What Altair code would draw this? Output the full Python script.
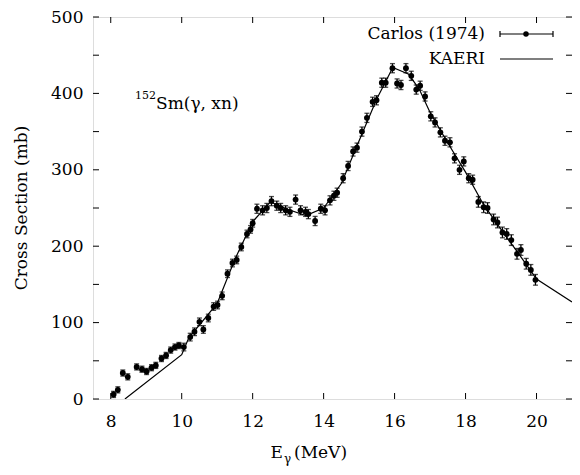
import altair as alt
import pandas as pd

# Carlos (1974) data
carlos_e = [8.08, 8.20, 8.34, 8.48, 8.73, 8.88, 9.01, 9.15, 9.27, 9.43, 9.56, 9.69, 9.81, 9.92,
            10.06, 10.24, 10.36, 10.50, 10.61, 10.75, 10.90, 11.01, 11.14, 11.29, 11.43, 11.55,
            11.68, 11.84, 11.94, 12.00, 12.12, 12.28, 12.40, 12.53, 12.68, 12.79, 12.93, 13.05,
            13.21, 13.35, 13.49, 13.57, 13.76, 13.92, 14.04, 14.18, 14.29, 14.38, 14.55, 14.69,
            14.83, 14.94, 15.08, 15.22, 15.38, 15.49, 15.64, 15.75, 15.94, 16.07, 16.18, 16.32,
            16.47, 16.61, 16.72, 16.86, 17.02, 17.14, 17.29, 17.42, 17.56, 17.69, 17.83, 17.95,
            18.09, 18.20, 18.36, 18.51, 18.62, 18.79, 18.90, 19.04, 19.16, 19.29, 19.45, 19.56,
            19.71, 19.84, 19.97]
carlos_s = [6, 12, 34, 29, 42, 39, 36, 41, 44, 53, 57, 64, 68, 70,
            68, 81, 88, 101, 91, 106, 121, 123, 135, 164, 178, 182,
            199, 216, 222, 230, 249, 247, 250, 259, 253, 250, 247, 245,
            261, 247, 245, 242, 233, 249, 247, 260, 266, 270, 289, 305,
            324, 329, 350, 368, 389, 391, 414, 414, 433, 413, 411, 433,
            423, 405, 410, 396, 370, 362, 349, 338, 336, 315, 300, 311,
            289, 287, 258, 251, 250, 235, 231, 218, 216, 208, 190, 195,
            177, 169, 156]
carlos_err = [4, 4, 4, 4, 4, 4, 4, 4, 4, 4, 4, 4, 4, 4,
              5, 5, 5, 5, 5, 5, 5, 5, 5, 5, 5, 5,
              5, 5, 5, 5, 6, 6, 6, 6, 6, 6, 6, 6,
              6, 6, 6, 6, 6, 6, 6, 6, 6, 6, 6, 6,
              6, 6, 6, 6, 6, 6, 6, 6, 6, 6, 6, 6,
              6, 6, 6, 6, 6, 6, 6, 6, 6, 6, 6, 6,
              6, 6, 7, 7, 7, 7, 7, 7, 7, 7, 7, 7,
              7, 7, 7]

# KAERI evaluation
kaeri_e = [8.4, 10.0, 10.2, 11.0, 11.5, 12.0, 12.5, 13.0, 13.5, 14.0, 14.5, 15.0, 15.5,
           15.95, 16.4, 16.7, 17.0, 17.5, 18.0, 18.5, 19.0, 19.5, 20.0, 21.0]
kaeri_s = [0, 58, 80, 125, 183, 232, 258, 248, 240, 250, 282, 338, 393,
           434, 425, 405, 375, 335, 297, 255, 222, 190, 157, 127]

x_ticks = [8, 10, 12, 14, 16, 18, 20]
y_ticks = [0, 50, 100, 150, 200, 250, 300, 350, 400, 450, 500]

FONT = "DejaVu Serif"
FS = 17
W, H = 479, 382

carlos = pd.DataFrame({"E": carlos_e, "S": carlos_s, "err": carlos_err})
carlos["lo"] = carlos["S"] - carlos["err"]
carlos["hi"] = carlos["S"] + carlos["err"]
kaeri = pd.DataFrame({"E": kaeri_e, "S": kaeri_s})
xt = pd.DataFrame({"v": x_ticks})
yt = pd.DataFrame({"v": y_ticks})

xs = alt.Scale(domain=[7.5, 21], nice=False, zero=False)
ys = alt.Scale(domain=[0, 500], nice=False)

xaxis = alt.Axis(values=x_ticks, ticks=False, domain=False, grid=False, title=None,
                 labelFont=FONT, labelFontSize=FS, labelColor="black", labelPadding=14)
yaxis = alt.Axis(values=y_ticks, ticks=False, domain=False, grid=False, title=None,
                 labelFont=FONT, labelFontSize=FS, labelColor="black", labelPadding=10)

base_line = alt.Chart(kaeri).mark_line(color="black", strokeWidth=1.2, clip=True).encode(
    x=alt.X("E:Q", scale=xs, axis=xaxis),
    y=alt.Y("S:Q", scale=ys, axis=yaxis),
)

bars = alt.Chart(carlos).mark_rule(color="black", strokeWidth=1.3).encode(
    x=alt.X("E:Q", scale=xs), y=alt.Y("lo:Q", scale=ys), y2="hi:Q")
cap_hi = alt.Chart(carlos).mark_tick(color="black", orient="horizontal", size=5, thickness=1.3).encode(
    x=alt.X("E:Q", scale=xs), y=alt.Y("hi:Q", scale=ys))
cap_lo = alt.Chart(carlos).mark_tick(color="black", orient="horizontal", size=5, thickness=1.3).encode(
    x=alt.X("E:Q", scale=xs), y=alt.Y("lo:Q", scale=ys))
pts = alt.Chart(carlos).mark_circle(color="black", size=34, opacity=1).encode(
    x=alt.X("E:Q", scale=xs), y=alt.Y("S:Q", scale=ys))

# inward ticks on all four sides
tb = alt.Chart(xt).mark_rule(color="black", strokeWidth=1).encode(
    x=alt.X("v:Q", scale=xs), y=alt.value(H), y2=alt.value(H - 6))
tt = alt.Chart(xt).mark_rule(color="black", strokeWidth=1).encode(
    x=alt.X("v:Q", scale=xs), y=alt.value(0), y2=alt.value(6))
tl = alt.Chart(yt).mark_rule(color="black", strokeWidth=1).encode(
    y=alt.Y("v:Q", scale=ys), x=alt.value(0), x2=alt.value(6))
tr = alt.Chart(yt).mark_rule(color="black", strokeWidth=1).encode(
    y=alt.Y("v:Q", scale=ys), x=alt.value(W), x2=alt.value(W - 6))

# legend
leg_txt = pd.DataFrame({"t": ["Carlos (1974)", "KAERI"], "y": [17, 42]})
leg_text = alt.Chart(leg_txt).mark_text(font=FONT, fontSize=FS, align="right", baseline="middle",
                                        color="black").encode(
    text="t:N", x=alt.value(392), y=alt.Y("y:Q", scale=None))
leg_line = alt.Chart(leg_txt).mark_rule(color="black", strokeWidth=1.2).encode(
    x=alt.value(407), x2=alt.value(460), y=alt.Y("y:Q", scale=None))
leg_caps = alt.Chart(pd.DataFrame({"x": [407, 460]})).mark_rule(color="black", strokeWidth=1.2).encode(
    x=alt.X("x:Q", scale=None), y=alt.value(14), y2=alt.value(20))
leg_dot = alt.Chart(pd.DataFrame({"x": [433]})).mark_circle(color="black", size=30, opacity=1).encode(
    x=alt.X("x:Q", scale=None), y=alt.value(17))

# annotation
ann = alt.Chart(pd.DataFrame({"t": ["152"]})).mark_text(font=FONT, fontSize=11, align="left",
                                                        baseline="middle", color="black").encode(
    text="t:N", x=alt.value(42), y=alt.value(79))
ann2 = alt.Chart(pd.DataFrame({"t": ["Sm(γ, xn)"]})).mark_text(font=FONT, fontSize=FS, align="left",
                                                               baseline="middle", color="black").encode(
    text="t:N", x=alt.value(63), y=alt.value(87))

# axis titles
xt1 = alt.Chart(pd.DataFrame({"t": ["E"]})).mark_text(font=FONT, fontSize=FS, align="right",
                                                       baseline="middle", color="black").encode(
    text="t:N", x=alt.value(190), y=alt.value(436))
xt2 = alt.Chart(pd.DataFrame({"t": ["γ"]})).mark_text(font=FONT, fontSize=12, align="left",
                                                       baseline="middle", color="black").encode(
    text="t:N", x=alt.value(191), y=alt.value(442))
xt3 = alt.Chart(pd.DataFrame({"t": ["(MeV)"]})).mark_text(font=FONT, fontSize=FS, align="left",
                                                           baseline="middle", color="black").encode(
    text="t:N", x=alt.value(201), y=alt.value(436))
yt1 = alt.Chart(pd.DataFrame({"t": ["Cross Section (mb)"]})).mark_text(
    font=FONT, fontSize=FS, align="center", baseline="middle", angle=270, color="black").encode(
    text="t:N", x=alt.value(-71), y=alt.value(191))

chart = alt.layer(base_line, bars, cap_hi, cap_lo, pts, tb, tt, tl, tr,
                  leg_text, leg_line, leg_caps, leg_dot, ann, ann2, xt1, xt2, xt3, yt1).properties(
    width=W, height=H,
    autosize=alt.AutoSizeParams(type="none"),
    padding={"left": 85, "top": 9, "right": 0, "bottom": 68},
).configure_view(stroke="black", strokeWidth=1.5).configure(background="white", font=FONT)

chart.save("out.html", embed_options={"renderer": "svg", "actions": False})
